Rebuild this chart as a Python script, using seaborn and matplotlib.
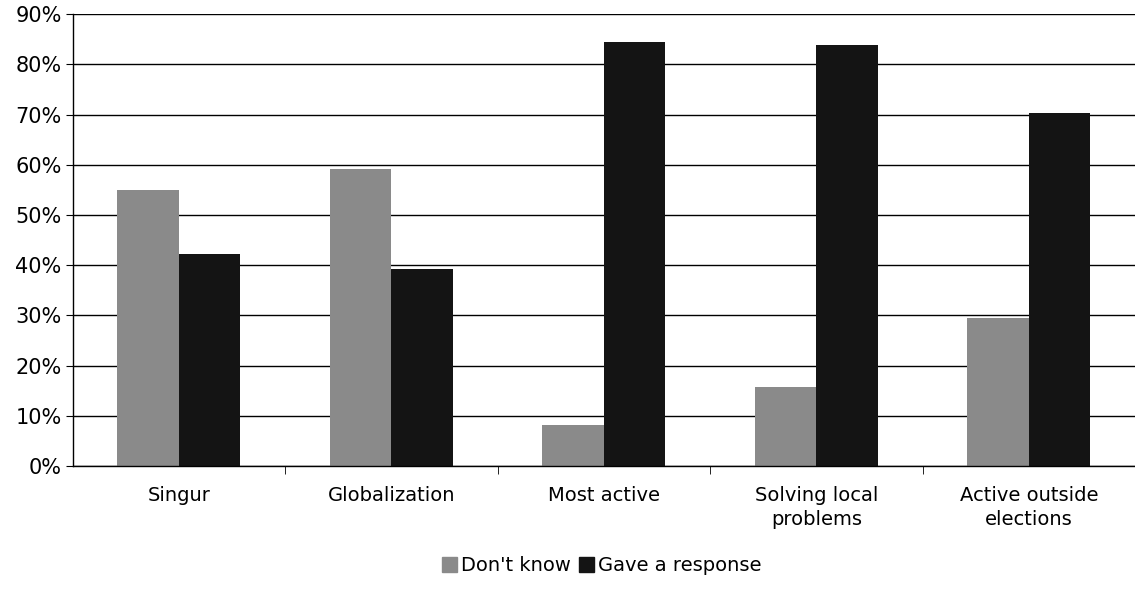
import matplotlib
matplotlib.use("Agg")
import matplotlib.pyplot as plt
import seaborn as sns
import pandas as pd
from matplotlib.ticker import PercentFormatter, FixedLocator

categories = ["Singur", "Globalization", "Most active", "Solving local\nproblems", "Active outside\nelections"]
dont_know = [55.0, 59.2, 8.2, 15.7, 29.5]
gave_response = [42.3, 39.3, 84.4, 83.9, 70.4]
series = ["Don't know", "Gave a response"]
colors = ["#8a8a8a", "#141414"]

rows = []
for c, d, g in zip(categories, dont_know, gave_response):
    rows.append({"cat": c, "series": series[0], "val": d})
    rows.append({"cat": c, "series": series[1], "val": g})
df = pd.DataFrame(rows)

sns.set_style("white")
plt.rcParams['font.family'] = ['DejaVu Sans']
plt.rcParams['text.color'] = 'black'
plt.rcParams['xtick.color'] = 'black'
plt.rcParams['ytick.color'] = 'black'

fig = plt.figure(figsize=(11.35, 5.9), dpi=100)
ax = fig.add_axes([0.064, 0.21, 0.936, 0.766])
sns.barplot(data=df, x="cat", y="val", hue="series", palette=colors, ax=ax,
            width=0.58, saturation=1, linewidth=0, order=categories, hue_order=series)

ax.set_ylim(0, 90)
ax.set_xlim(-0.5, 4.5)
ax.set_yticks(range(0, 91, 10))
ax.yaxis.set_major_formatter(PercentFormatter(decimals=0))
ax.grid(axis="y", color="black", linewidth=1)
ax.set_axisbelow(True)
for s in ["top", "right"]:
    ax.spines[s].set_visible(False)
for s in ["left", "bottom"]:
    ax.spines[s].set_color("black")
    ax.spines[s].set_linewidth(1)
ax.set_xlabel("")
ax.set_ylabel("")
ax.tick_params(axis="y", labelsize=15, length=5, color="black", direction="out", left=True, pad=3)
ax.tick_params(axis="x", which="major", labelsize=14, length=0, pad=14)
for lbl in ax.get_xticklabels():
    lbl.set_linespacing(1.35)
ax.xaxis.set_minor_locator(FixedLocator([0.5, 1.5, 2.5, 3.5]))
ax.tick_params(axis="x", which="minor", length=6, color="black", direction="out", bottom=True)

ax.legend_.remove()
handles = [plt.Rectangle((0, 0), 1, 1, color=c) for c in colors]
fig.legend(handles, series, loc="lower center", bbox_to_anchor=(0.53, -0.005), ncol=2,
           frameon=False, fontsize=14, handlelength=0.8, handleheight=0.8,
           handletextpad=0.2, columnspacing=0.4)

fig.savefig("out.png", dpi=100)
